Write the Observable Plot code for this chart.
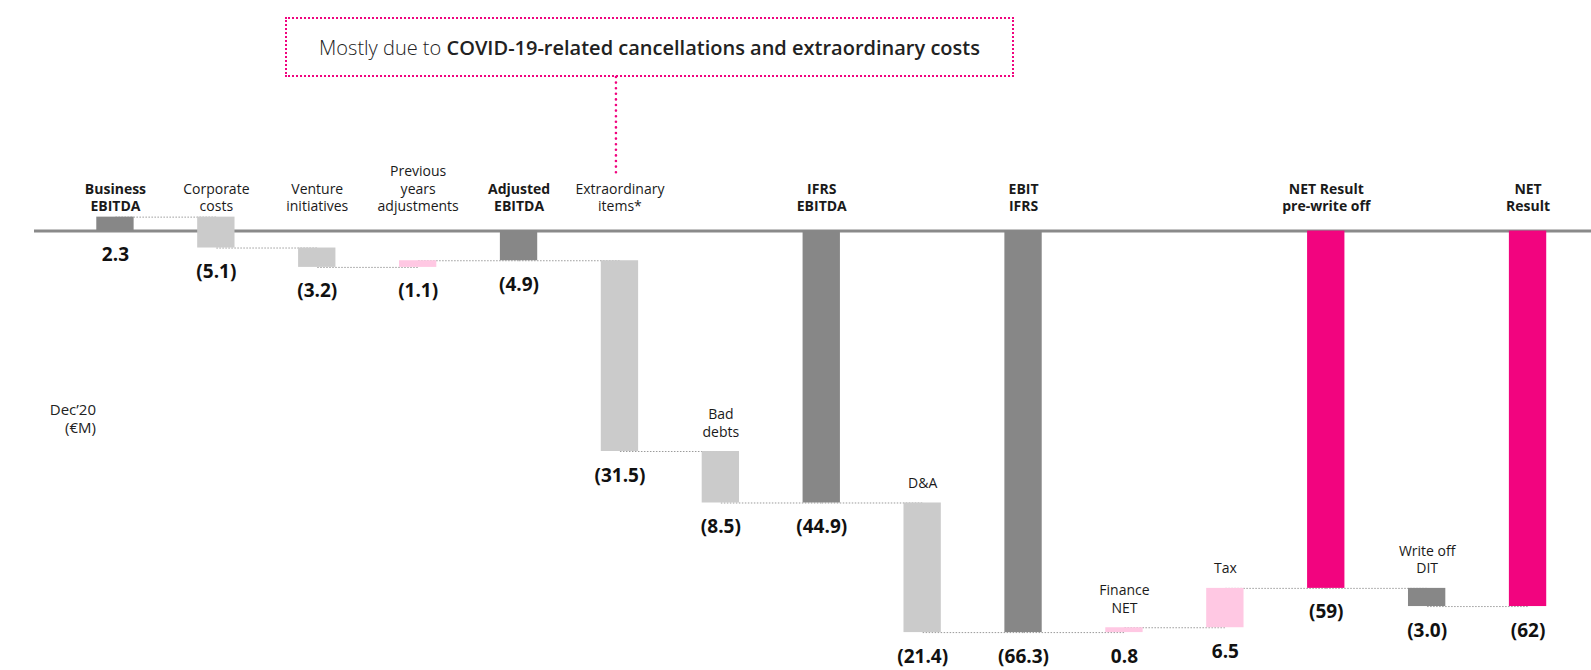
<!DOCTYPE html>
<html>
<head>
<meta charset="utf-8">
<script src="https://cdn.jsdelivr.net/npm/d3@7"></script>
<script src="https://cdn.jsdelivr.net/npm/@observablehq/plot@0.6"></script>
<style>
  html, body { margin: 0; padding: 0; background: #fff; }
  #wrap { position: relative; width: 1591px; height: 670px; overflow: hidden; }
  #note {
    position: absolute; left: 285px; top: 17px; width: 729px; height: 60px;
    box-sizing: border-box; border: 2.5px dotted #f0047f;
    display: flex; align-items: center; justify-content: center;
    font-family: "Open Sans", "Noto Sans", sans-serif; font-size: 20px; color: #222;
    white-space: nowrap;
  }
  #note .light { font-weight: 300; white-space: pre; }
  #note b { font-weight: 600; }
</style>
</head>
<body>
<div id="wrap">
  <div id="chart"></div>
  <div id="note"><span class="light">Mostly due to </span><b>COVID-19-related cancellations and extraordinary costs</b></div>
</div>
<script>
// P&L bridge, Dec'20, €M
const steps = [
  "Business EBITDA", "Corporate costs", "Venture initiatives", "Previous years adjustments",
  "Adjusted EBITDA", "Extraordinary items*", "Bad debts", "IFRS EBITDA", "D&A", "EBIT IFRS",
  "Finance NET", "Tax", "NET Result pre-write off", "Write off DIT", "NET Result"
];
const tickLabels = [
  "Business\nEBITDA", "Corporate\ncosts", "Venture\ninitiatives", "Previous\nyears\nadjustments",
  "Adjusted\nEBITDA", "Extraordinary\nitems*", "Bad\ndebts", "IFRS\nEBITDA", "D&A", "EBIT\nIFRS",
  "Finance\nNET", "Tax", "NET Result\npre-write off", "Write off\nDIT", "NET\nResult"
];
// movement of each step (subtotals give their level from zero)
const amounts = [2.3, -5.1, -3.2, 1.1, -4.9, -31.5, -8.5, -44.9, -21.4, -66.3, 0.8, 6.5, -59, -3.0, -62];
const isTotal = [true, false, false, false, true, false, false, true, false, true, false, false, true, false, true];
const kinds = ["dark", "light", "light", "pink", "dark", "light", "light", "dark", "light", "dark", "pink", "pink", "magenta", "dark", "magenta"];
const valueLabels = ["2.3", "(5.1)", "(3.2)", "(1.1)", "(4.9)", "(31.5)", "(8.5)", "(44.9)", "(21.4)", "(66.3)", "0.8", "6.5", "(59)", "(3.0)", "(62)"];
const unitLabel = "Dec\u201920\n(\u20acM)";

// running waterfall levels
let level = 0;
const rows = steps.map((step, i) => {
  let y1, y2;
  if (isTotal[i]) { y1 = 0; y2 = amounts[i]; }
  else { y1 = level; y2 = level + amounts[i]; }
  level = y2;
  return {
    step, label: tickLabels[i], value: valueLabels[i], kind: kinds[i], total: isTotal[i],
    y1, y2, top: Math.max(y1, y2), bottom: Math.min(y1, y2)
  };
});
const links = rows.slice(0, -1).map((d, i) => ({from: d.step, to: rows[i + 1].step, level: d.y2}));

// bars near the baseline carry their names above the axis, the rest above their own top
const nearAxis = d => d.top > -10;
const font = {fontSize: 14, lineHeight: 1.25, fill: "#1a1a1a"};

const chart = Plot.plot({
  width: 1591,
  height: 670,
  marginLeft: 64.5,
  marginRight: 13,
  marginTop: 170,
  marginBottom: 15.5,
  style: {fontFamily: "'Open Sans', 'Noto Sans', sans-serif", background: "#fff"},
  x: {domain: steps, range: [64.5, 1578], paddingInner: 0.63, paddingOuter: 0.315, round: false, axis: null},
  y: {domain: [-70, 10], axis: null},
  color: {domain: ["dark", "light", "pink", "magenta"], range: ["#878787", "#cbcbcb", "#ffc8e3", "#f2047f"]},
  marks: [
    // baseline
    Plot.ruleY([0], {stroke: "#8a8a8a", strokeWidth: 3, insetLeft: -30.5, insetRight: -13}),
    // dotted connector to the annotation box
    Plot.ruleX(["Extraordinary items*"], {stroke: "#f0047f", strokeWidth: 2.6, strokeDasharray: "0 5.6", strokeLinecap: "round", dx: -4, insetTop: -93, insetBottom: 480}),
    // level connectors between bars
    Plot.link(links, {x1: "from", x2: "to", y1: "level", y2: "level", stroke: "#9b9b9b", strokeWidth: 1, strokeDasharray: "1.5 1.5"}),
    Plot.barY(rows, {x: "step", y1: "y1", y2: "y2", fill: "kind"}),
    // category names
    Plot.text(rows.filter(d => nearAxis(d) && d.total), {x: "step", y: 0, text: "label", lineAnchor: "bottom", dy: -20, fontWeight: 700, ...font}),
    Plot.text(rows.filter(d => nearAxis(d) && !d.total), {x: "step", y: 0, text: "label", lineAnchor: "bottom", dy: -20, ...font}),
    Plot.text(rows.filter(d => !nearAxis(d) && d.total), {x: "step", y: 0, text: "label", lineAnchor: "bottom", dy: -20, fontWeight: 700, ...font}),
    Plot.text(rows.filter(d => !nearAxis(d) && !d.total), {x: "step", y: "top", text: "label", lineAnchor: "bottom", dy: -15, ...font}),
    // value labels under each bar
    Plot.text(rows, {x: "step", y: "bottom", text: "value", dy: 24, fontSize: 19, fontWeight: 700, fill: "#111"}),
    // unit label
    Plot.text([unitLabel], {frameAnchor: "left", textAnchor: "end", dx: 31, dy: 5, fontSize: 15, lineHeight: 1.2, fill: "#222"})
  ]
});
document.getElementById("chart").appendChild(chart);
</script>
</body>
</html>
